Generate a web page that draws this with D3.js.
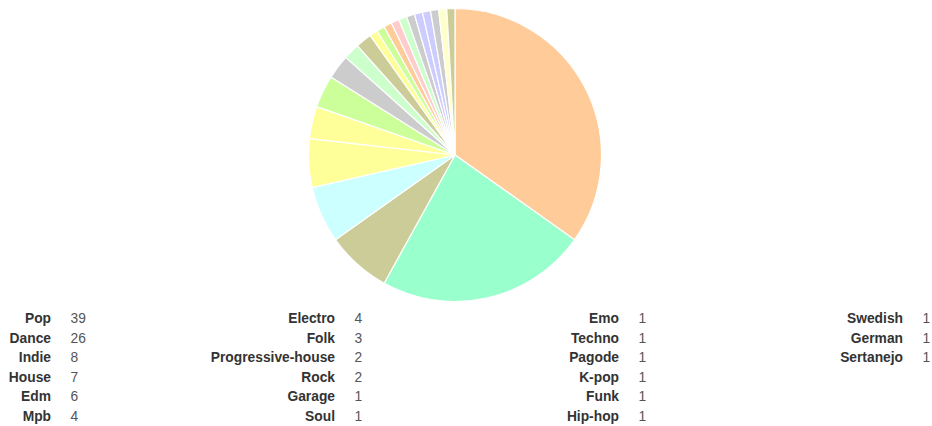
<!DOCTYPE html>
<html>
<head>
<meta charset="utf-8">
<script src="https://cdn.jsdelivr.net/npm/d3@7"></script>
<style>
  html, body { margin: 0; padding: 0; background: #fff; }
  svg { display: block; font-family: "Liberation Sans", Arial, sans-serif; }
</style>
</head>
<body>
<svg id="chart" width="932" height="426"></svg>
<script>
// Genre counts, in slice order (clockwise from 12 o'clock)
const genres = ["Pop", "Dance", "Indie", "House", "Edm", "Mpb", "Electro", "Folk",
  "Progressive-house", "Rock", "Garage", "Soul", "Emo", "Techno", "Pagode", "K-pop",
  "Funk", "Hip-hop", "Swedish", "German", "Sertanejo"];
const counts = [39, 26, 8, 7, 6, 4, 4, 3, 2, 2, 1, 1, 1, 1, 1, 1, 1, 1, 1, 1, 1];
const sliceColors = ["#ffcc99", "#99ffcc", "#cccc99", "#ccffff", "#ffff99", "#ffff99",
  "#ccff99", "#cccccc", "#ccffcc", "#cccc99", "#ffff99", "#ccff99", "#ffcc99", "#ffcccc",
  "#ccffcc", "#cccccc", "#ccccff", "#ccccff", "#cccccc", "#ffffcc", "#cccc99"];

const data = genres.map((g, i) => ({ genre: g, count: counts[i] }));
const svg = d3.select("#chart");

// Pie
const cx = 455, cy = 155, radius = 146.5;
const pie = d3.pie().value(d => d.count).sort(null);
const arc = d3.arc().innerRadius(0).outerRadius(radius);
const color = d3.scaleOrdinal().domain(genres).range(sliceColors);

svg.append("g")
  .attr("transform", `translate(${cx},${cy})`)
  .selectAll("path")
  .data(pie(data))
  .join("path")
  .attr("d", arc)
  .attr("fill", d => color(d.data.genre))
  .attr("stroke", "#ffffff")
  .attr("stroke-width", 1.2);

// Legend table: four columns of six rows
const rowsPerCol = 6;
const colX = d3.scaleLinear().domain([0, 1]).range([51, 335]);
const rowY = d3.scaleLinear().domain([0, 1]).range([323, 342.5]);

const legend = svg.append("g")
  .selectAll("g")
  .data(data)
  .join("g")
  .attr("transform", (d, i) =>
    `translate(${colX(Math.floor(i / rowsPerCol))},${rowY(i % rowsPerCol)})`);

legend.append("text")
  .attr("text-anchor", "end")
  .attr("font-size", 13.8)
  .attr("font-weight", "bold")
  .attr("fill", "#333333")
  .text(d => d.genre);

legend.append("text")
  .attr("x", 19.5)
  .attr("font-size", 13.8)
  .attr("fill", "#555555")
  .text(d => d.count);
</script>
</body>
</html>
